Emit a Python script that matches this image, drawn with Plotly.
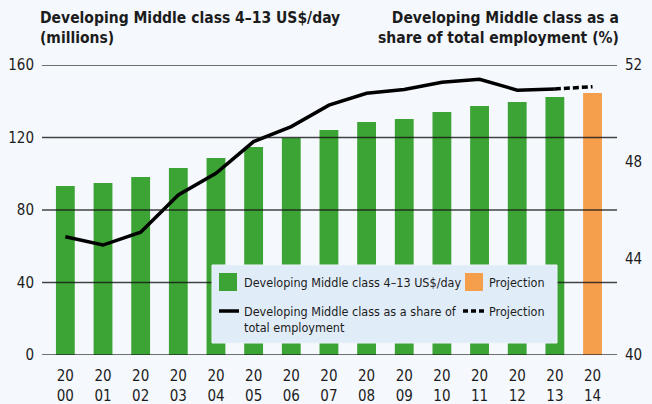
import plotly.graph_objects as go

# Developing middle class (4-13 US$/day), millions, and its share of total employment (%)
years = list(range(2000, 2015))
middle_class_millions = [93.2, 94.9, 98.2, 103.2, 108.7, 114.8, 119.7, 124.1,
                         128.6, 130.2, 134.1, 137.4, 139.6, 142.3, 144.6]
share_years = list(range(2000, 2014))
share_pct = [44.89, 44.55, 45.08, 46.62, 47.52, 48.83, 49.45, 50.34,
             50.83, 50.99, 51.29, 51.41, 50.96, 51.01]
proj_years = [2013, 2014]
proj_share_pct = [51.01, 51.10]
projection_year = 2014

left_ticks = [0, 40, 80, 120, 160]
right_ticks = [40, 44, 48, 52]

bar_label = "Developing Middle class 4\u201313 US$/day"
line_label = "Developing Middle class as a share of<br>total employment"
proj_label = "Projection"
left_title = "<b>Developing Middle class 4\u201313 US$/day<br>(millions)</b>"
right_title = "<b>Developing Middle class as a<br>share of total employment (%)</b>"

GREEN = "#3ca335"
ORANGE = "#f59e4c"
BG = "#f5f9fe"
LEGEND_BG = "#e0ecf8"
TEXT = "#1c1c1c"
FONT = "DejaVu Sans Condensed, Liberation Sans Narrow, Arial Narrow, sans-serif"

# figure geometry (pixels)
W, H = 652, 404
ML, MR, MT, MB = 42, 35, 65, 49
PW, PH = W - ML - MR, H - MT - MB


def px(x):
    """Pixel x -> paper x."""
    return (x - ML) / PW


def py(y):
    """Pixel y (from top) -> paper y."""
    return (H - MB - y) / PH


bar_colors = [ORANGE if y == projection_year else GREEN for y in years]
tick_text = [f"{y // 100}<br>{y % 100:02d}" for y in years]

fig = go.Figure()

fig.add_trace(go.Bar(
    x=years, y=middle_class_millions, marker_color=bar_colors,
    marker_line_width=0, width=0.5, showlegend=False, yaxis="y",
))
fig.add_trace(go.Scatter(
    x=share_years, y=share_pct, mode="lines", yaxis="y2",
    line=dict(color="black", width=3.5), showlegend=False,
))
fig.add_trace(go.Scatter(
    x=proj_years, y=proj_share_pct, mode="lines", yaxis="y2",
    line=dict(color="black", width=3.5, dash="6px,3px"), showlegend=False,
))

shapes = []
# horizontal gridlines drawn over the bars
for v in left_ticks:
    shapes.append(dict(type="line", xref="paper", x0=0, x1=1, yref="y", y0=v, y1=v,
                       line=dict(color="rgba(20,20,20,0.8)", width=1.3), layer="above"))

# legend box
shapes.append(dict(type="rect", xref="paper", yref="paper",
                   x0=px(212), x1=px(557), y0=py(343), y1=py(265),
                   fillcolor=LEGEND_BG, line=dict(color="#eef4fb", width=1), layer="above"))
# legend swatches
shapes.append(dict(type="rect", xref="paper", yref="paper",
                   x0=px(219), x1=px(237), y0=py(291), y1=py(273),
                   fillcolor=GREEN, line_width=0, layer="above"))
shapes.append(dict(type="rect", xref="paper", yref="paper",
                   x0=px(465), x1=px(483), y0=py(291), y1=py(273),
                   fillcolor=ORANGE, line_width=0, layer="above"))
shapes.append(dict(type="line", xref="paper", yref="paper",
                   x0=px(219), x1=px(239), y0=py(311), y1=py(311),
                   line=dict(color="black", width=3.5), layer="above"))
shapes.append(dict(type="line", xref="paper", yref="paper",
                   x0=px(463), x1=px(486), y0=py(311), y1=py(311),
                   line=dict(color="black", width=3.5, dash="5px,3px"), layer="above"))

annotations = [
    dict(xref="paper", yref="paper", x=px(38), y=py(7), xanchor="left", yanchor="top",
         text=left_title, showarrow=False, align="left",
         font=dict(family=FONT, size=15.5, color=TEXT)),
    dict(xref="paper", yref="paper", x=px(621), y=py(7), xanchor="right", yanchor="top",
         text=right_title, showarrow=False, align="right",
         font=dict(family=FONT, size=15.5, color=TEXT)),
    dict(xref="paper", yref="paper", x=px(242), y=py(282), xanchor="left", yanchor="middle",
         text=bar_label, showarrow=False, align="left",
         font=dict(family=FONT, size=12.5, color=TEXT)),
    dict(xref="paper", yref="paper", x=px(487), y=py(282), xanchor="left", yanchor="middle",
         text=proj_label, showarrow=False, align="left",
         font=dict(family=FONT, size=12.5, color=TEXT)),
    dict(xref="paper", yref="paper", x=px(242), y=py(319), xanchor="left", yanchor="middle",
         text=line_label, showarrow=False, align="left",
         font=dict(family=FONT, size=12.5, color=TEXT)),
    dict(xref="paper", yref="paper", x=px(487), y=py(311), xanchor="left", yanchor="middle",
         text=proj_label, showarrow=False, align="left",
         font=dict(family=FONT, size=12.5, color=TEXT)),
]

fig.update_layout(
    width=W, height=H,
    margin=dict(l=ML, r=MR, t=MT, b=MB),
    paper_bgcolor=BG, plot_bgcolor=BG,
    font=dict(family=FONT, size=15, color=TEXT),
    showlegend=False,
    shapes=shapes, annotations=annotations,
    xaxis=dict(
        tickmode="array", tickvals=years, ticktext=tick_text,
        range=[1999.38, 2014.65], showgrid=False, zeroline=False,
        showline=False, ticks="", ticklabelstandoff=10, automargin=False,
    ),
    yaxis=dict(
        range=[0, 160], tickvals=left_ticks, showgrid=False, zeroline=False,
        ticks="", showline=False, ticklabelstandoff=7, automargin=False,
    ),
    yaxis2=dict(
        range=[40, 52], tickvals=right_ticks, overlaying="y", side="right",
        showgrid=False, zeroline=False, ticks="", showline=False,
        ticklabelstandoff=7, automargin=False,
    ),
)

fig.write_html("out.html")
